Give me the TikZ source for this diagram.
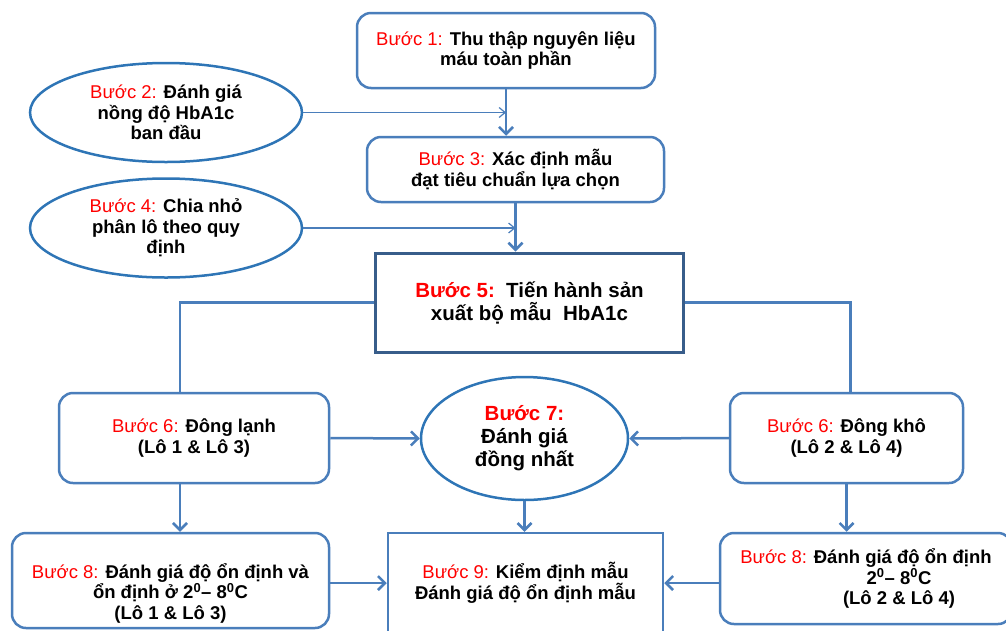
\documentclass[tikz,border=0pt]{standalone}
\usepackage{fontspec}
\setmainfont{Liberation Sans}
\usetikzlibrary{arrows.meta,shapes.geometric}
\definecolor{lineblue}{RGB}{74,126,187}
\definecolor{darkblue}{RGB}{56,93,138}
\definecolor{ovalblue}{RGB}{46,117,182}
\newcommand{\stepno}[1]{\textcolor{red}{\mdseries Bước #1:}}
\newcommand{\stepbold}[1]{\textcolor{red}{Bước #1:}}
\tikzset{
  stepbox/.style={draw=lineblue,line width=2.5pt,rounded corners=14pt,align=center},
  ovalbox/.style={draw=ovalblue,line width=2.5pt,ellipse,align=center,inner sep=0pt},
  mainbox/.style={draw=darkblue,line width=3pt,align=center},
  link/.style={draw=lineblue,line width=2.5pt,-{Straight Barb[length=7pt,width=14pt]}},
  thinlink/.style={draw=lineblue,line width=1.2pt,-{Straight Barb[length=6pt,width=10pt]}},
  bigtext/.style={font=\fontsize{20.5}{23}\selectfont\bfseries}
}
\begin{document}
\begin{tikzpicture}[x=1pt,y=-1pt,every node/.style={font=\fontsize{18.5}{20.5}\selectfont\bfseries}]
\useasboundingbox (0,0) rectangle (1006,630);
\node[stepbox,minimum width=298pt,minimum height=75pt] (s1) at (506,50.5)
  {\stepno{1} Thu thập nguyên liệu\\máu toàn phần};
\node[ovalbox,minimum width=272pt,minimum height=99pt] (s2) at (166,112.5)
  {\stepno{2} Đánh giá\\nồng độ HbA1c\\ban đầu};
\node[stepbox,minimum width=297pt,minimum height=65pt] (s3) at (515.5,169.5)
  {\stepno{3} Xác định mẫu\\đạt tiêu chuẩn lựa chọn};
\node[ovalbox,minimum width=272pt,minimum height=99pt] (s4) at (166,228)
  {\stepno{4} Chia nhỏ\\phân lô theo quy\\định};
\node[mainbox,bigtext,minimum width=308pt,minimum height=99pt] (s5) at (529.5,302.5)
  {\stepbold{5}\ \ Tiến hành sản\\xuất bộ mẫu\ \ HbA1c};
\node[stepbox,minimum width=270pt,minimum height=90pt] (s6a) at (194,438)
  {\stepno{6} Đông lạnh\\(Lô 1 \& Lô 3)};
\node[ovalbox,bigtext,minimum width=207pt,minimum height=123pt] (s7) at (524.5,438.5)
  {\stepbold{7}\\Đánh giá\\đồng nhất};
\node[stepbox,minimum width=233pt,minimum height=90pt] (s6b) at (846.5,438)
  {\stepno{6} Đông khô\\(Lô 2 \& Lô 4)};
\node[stepbox,minimum width=317pt,minimum height=95pt] (s8a) at (170.5,580.5) {};
\node[align=center] (s8atext) at (170.5,593)
  {\stepno{8} Đánh giá độ ổn định và\\ổn định ở 2\textsuperscript{0}– 8\textsuperscript{0}C\\(Lô 1 \& Lô 3)};
\node[draw=lineblue,line width=2.5pt,align=center,minimum width=275pt,minimum height=100pt] (s9) at (525.5,583)
  {\stepno{9} Kiểm định mẫu\\Đánh giá độ ổn định mẫu};
\node[stepbox,minimum width=292pt,minimum height=91pt] (s8b) at (866,578.5)
  {\stepno{8} Đánh giá độ ổn định\\\hspace*{66pt}2\textsuperscript{0}– 8\textsuperscript{0}C\\\hspace*{66pt}(Lô 2 \& Lô 4)};

\draw[link] (s1.south) -- (s1.south |- s3.north);
\draw[thinlink] (s2.east) -- (s2.east -| s1.south);
\draw[link] (s3.south) -- (s3.south |- s5.north);
\draw[thinlink] (s4.east) -- (s4.east -| s3.south);
\draw[lineblue,line width=2.5pt] (s5.west) -| ([xshift=-14pt]s6a.north);
\draw[lineblue,line width=2.5pt] (s5.east) -| ([xshift=4pt]s6b.north);
\draw[link] (s6a.east) -- (s7.west);
\draw[link] (s6b.west) -- (s7.east);
\draw[link] ([xshift=-14pt]s6a.south) -- ([xshift=-14pt]s6a.south |- s8a.north);
\draw[link] (s7.south) -- (s7.south |- s9.north);
\draw[link] (s6b.south) -- (s6b.south |- s8b.north);
\draw[link] (s9.west -| s8a.east) -- (s9.west);
\draw[link] (s9.east -| s8b.west) -- (s9.east);
\end{tikzpicture}
\end{document}
